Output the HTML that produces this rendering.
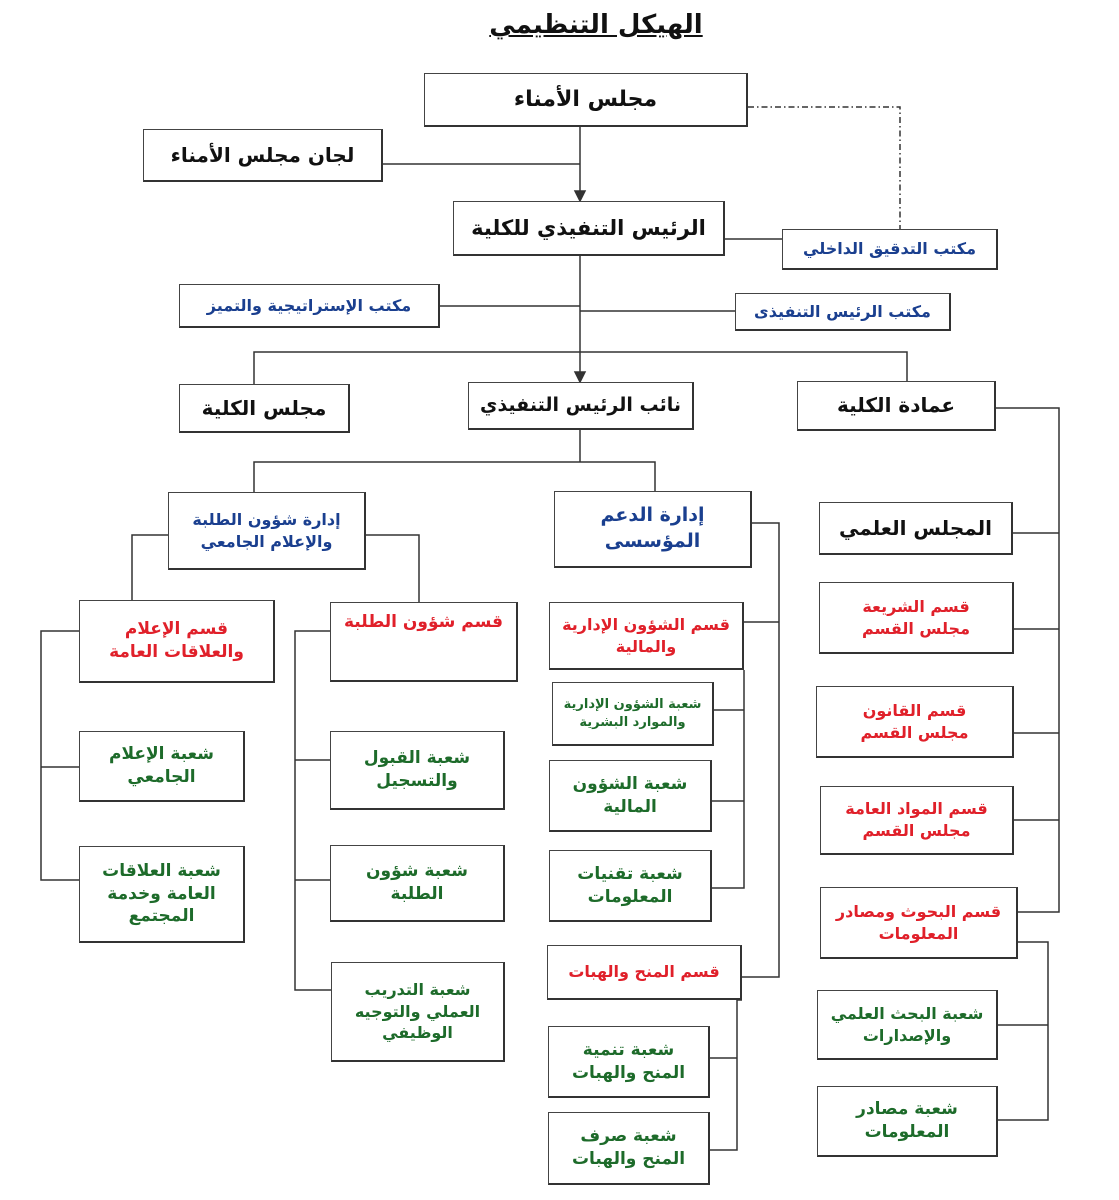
<!DOCTYPE html>
<html><head><meta charset="utf-8"><style>
body{margin:0;width:1119px;height:1200px;background:#fff;position:relative;overflow:hidden;font-family:"DejaVu Sans",sans-serif;}
.b{position:absolute;box-sizing:border-box;border:1.5px solid #444;border-right:2.5px solid #333;border-bottom:2.5px solid #333;background:#fff;display:flex;align-items:center;justify-content:center;text-align:center;direction:rtl;font-weight:bold;line-height:1.35;}
.k{color:#111;font-size:20px}
.bl{color:#1a3f8f;font-size:16px}
.r{color:#e0202a;font-size:16px}
.g{color:#1d6b2a;font-size:17px}
svg{position:absolute;left:0;top:0}
.t{position:absolute;left:421px;top:10px;width:350px;text-align:center;font-size:26px;font-weight:bold;text-decoration:underline;direction:rtl;color:#111;white-space:nowrap}
</style></head><body>
<svg width="1119" height="1200" stroke="#333" stroke-width="1.5" fill="none">
<polyline points="748,107 900,107 900,229" stroke-dasharray="6,3,1.5,3"/>
<line x1="580" y1="127" x2="580" y2="193"/><polygon points="575,191 585,191 580,201" fill="#333"/>
<line x1="383" y1="164" x2="580" y2="164"/>
<line x1="725" y1="239" x2="782" y2="239"/>
<line x1="580" y1="256" x2="580" y2="374"/><polygon points="575,372 585,372 580,382" fill="#333"/>
<line x1="440" y1="306" x2="580" y2="306"/><line x1="580" y1="311" x2="735" y2="311"/>
<polyline points="254,384 254,352 907,352 907,381"/>
<line x1="580" y1="430" x2="580" y2="462"/>
<polyline points="254,492 254,462 655,462 655,491"/>
<polyline points="996,408 1059,408 1059,912 1018,912"/>
<line x1="1013" y1="533" x2="1059" y2="533"/><line x1="1014" y1="629" x2="1059" y2="629"/><line x1="1014" y1="733" x2="1059" y2="733"/><line x1="1014" y1="820" x2="1059" y2="820"/>
<polyline points="168,535 132,535 132,600"/><polyline points="366,535 419,535 419,602"/>
<polyline points="79,631 41,631 41,880 79,880"/><line x1="41" y1="767" x2="79" y2="767"/>
<polyline points="330,631 295,631 295,990 331,990"/><line x1="295" y1="760" x2="330" y2="760"/><line x1="295" y1="880" x2="330" y2="880"/>
<polyline points="752,523 779,523 779,977 742,977"/><line x1="744" y1="622" x2="779" y2="622"/>
<polyline points="744,670 744,888 712,888"/><line x1="714" y1="710" x2="744" y2="710"/><line x1="712" y1="801" x2="744" y2="801"/>
<polyline points="742,1000 737,1000 737,1150 710,1150"/><line x1="710" y1="1058" x2="737" y2="1058"/>
<polyline points="1018,942 1048,942 1048,1120 998,1120"/><line x1="998" y1="1025" x2="1048" y2="1025"/>
</svg>
<div class="t">الهيكل التنظيمي</div>
<div class="b k" style="left:424px;top:73px;width:324px;height:54px;font-size:22px">مجلس الأمناء</div>
<div class="b k" style="left:143px;top:129px;width:240px;height:53px">لجان مجلس الأمناء</div>
<div class="b k" style="left:453px;top:201px;width:272px;height:55px;font-size:21px">الرئيس التنفيذي للكلية</div>
<div class="b bl" style="left:782px;top:229px;width:216px;height:41px">مكتب التدقيق الداخلي</div>
<div class="b bl" style="left:179px;top:284px;width:261px;height:44px">مكتب الإستراتيجية والتميز</div>
<div class="b bl" style="left:735px;top:293px;width:216px;height:38px">مكتب الرئيس التنفيذى</div>
<div class="b k" style="left:179px;top:384px;width:171px;height:49px">مجلس الكلية</div>
<div class="b k" style="left:468px;top:382px;width:226px;height:48px;font-size:19px">نائب الرئيس التنفيذي</div>
<div class="b k" style="left:797px;top:381px;width:199px;height:50px">عمادة الكلية</div>
<div class="b bl" style="left:168px;top:492px;width:198px;height:78px">إدارة شؤون الطلبة<br>والإعلام الجامعي</div>
<div class="b bl" style="left:554px;top:491px;width:198px;height:77px;font-size:19px">إدارة الدعم<br>المؤسسى</div>
<div class="b k" style="left:819px;top:502px;width:194px;height:53px">المجلس العلمي</div>
<div class="b r" style="left:79px;top:600px;width:196px;height:83px;font-size:17px">قسم الإعلام<br>والعلاقات العامة</div>
<div class="b r" style="left:330px;top:602px;width:188px;height:80px;align-items:flex-start;padding-top:8px;font-size:17px">قسم شؤون الطلبة</div>
<div class="b r" style="left:549px;top:602px;width:195px;height:68px">قسم الشؤون الإدارية<br>والمالية</div>
<div class="b r" style="left:819px;top:582px;width:195px;height:72px">قسم الشريعة<br>مجلس القسم</div>
<div class="b g" style="left:552px;top:682px;width:162px;height:64px;font-size:13px">شعبة الشؤون الإدارية<br>والموارد البشرية</div>
<div class="b r" style="left:816px;top:686px;width:198px;height:72px">قسم القانون<br>مجلس القسم</div>
<div class="b g" style="left:79px;top:731px;width:166px;height:71px">شعبة الإعلام<br>الجامعي</div>
<div class="b g" style="left:330px;top:731px;width:175px;height:79px">شعبة القبول<br>والتسجيل</div>
<div class="b g" style="left:549px;top:760px;width:163px;height:72px">شعبة الشؤون<br>المالية</div>
<div class="b r" style="left:820px;top:786px;width:194px;height:69px">قسم المواد العامة<br>مجلس القسم</div>
<div class="b g" style="left:79px;top:846px;width:166px;height:97px">شعبة العلاقات<br>العامة وخدمة<br>المجتمع</div>
<div class="b g" style="left:330px;top:845px;width:175px;height:77px">شعبة شؤون<br>الطلبة</div>
<div class="b g" style="left:549px;top:850px;width:163px;height:72px">شعبة تقنيات<br>المعلومات</div>
<div class="b r" style="left:820px;top:887px;width:198px;height:72px">قسم البحوث ومصادر<br>المعلومات</div>
<div class="b r" style="left:547px;top:945px;width:195px;height:55px">قسم المنح والهبات</div>
<div class="b g" style="left:331px;top:962px;width:174px;height:100px;font-size:16px">شعبة التدريب<br>العملي والتوجيه<br>الوظيفي</div>
<div class="b g" style="left:817px;top:990px;width:181px;height:70px;font-size:16px">شعبة البحث العلمي<br>والإصدارات</div>
<div class="b g" style="left:548px;top:1026px;width:162px;height:72px">شعبة تنمية<br>المنح والهبات</div>
<div class="b g" style="left:817px;top:1086px;width:181px;height:71px">شعبة مصادر<br>المعلومات</div>
<div class="b g" style="left:548px;top:1112px;width:162px;height:73px">شعبة صرف<br>المنح والهبات</div>
</body></html>
